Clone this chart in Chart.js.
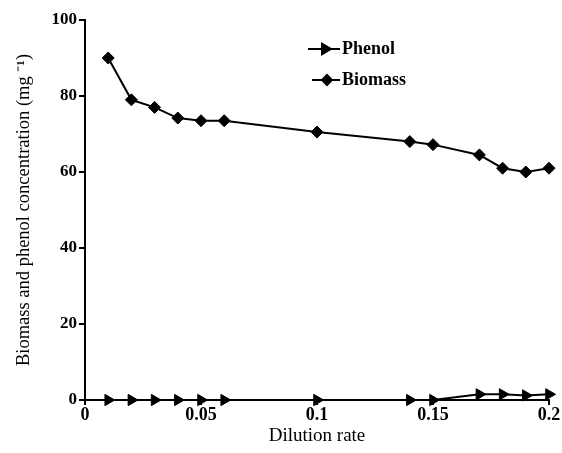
<!DOCTYPE html>
<html>
<head>
<meta charset="utf-8">
<script src="https://cdn.jsdelivr.net/npm/chart.js@4"></script>
<style>
  html, body { margin: 0; padding: 0; background: #fff; }
  #wrap { width: 562px; height: 453px; }
</style>
</head>
<body>
<div id="wrap"><canvas id="myChart" width="562" height="453"></canvas></div>
<script>
const dilution = [0.01, 0.02, 0.03, 0.04, 0.05, 0.06, 0.1, 0.14, 0.15, 0.17, 0.18, 0.19, 0.2];
const biomass = [90, 79, 77, 74.2, 73.5, 73.5, 70.5, 68, 67.2, 64.5, 61, 60, 61];
const phenol = [0, 0, 0, 0, 0, 0, 0, 0, 0, 1.5, 1.5, 1.2, 1.5];
const xTicks = [0, 0.05, 0.1, 0.15, 0.2];
const yTicks = [0, 20, 40, 60, 80, 100];

const font = 'Liberation Serif';

const pts = (ys) => dilution.map((x, i) => ({x: x, y: ys[i]}));

// legend drawn inside the plot, upper middle
const innerLegend = {
    id: 'innerLegend',
    afterDraw(chart) {
        const ctx = chart.ctx;
        const x0 = chart.chartArea.left + 223;
        let y = chart.chartArea.top + 29;
        ctx.save();
        chart.data.datasets.forEach((ds) => {
            const tri = ds.pointStyle === 'triangle';
            ctx.strokeStyle = '#000';
            ctx.lineWidth = 2;
            ctx.beginPath();
            ctx.moveTo(x0 + (tri ? 0 : 4), y);
            ctx.lineTo(x0 + 32, y);
            ctx.stroke();
            Chart.helpers.drawPoint(ctx, {
                pointStyle: ds.pointStyle,
                rotation: ds.pointRotation || 0,
                radius: tri ? 6 : 5,
                borderWidth: 1
            }, x0 + (tri ? 17 : 19), y);
            ctx.fillStyle = '#000';
            ctx.font = 'bold 18px "' + font + '"';
            ctx.textBaseline = 'middle';
            ctx.fillText(ds.label, x0 + 34, y);
            y += 31;
        });
        ctx.restore();
    }
};

new Chart(document.getElementById('myChart').getContext('2d'), {
    type: 'line',
    data: {
        datasets: [{
            label: 'Phenol',
            data: pts(phenol),
            borderColor: '#000',
            backgroundColor: '#000',
            borderWidth: 2,
            pointStyle: 'triangle',
            pointRotation: 90,
            pointRadius: 6.5,
            pointBorderWidth: 1,
            lineTension: 0,
            clip: false
        }, {
            label: 'Biomass',
            data: pts(biomass),
            borderColor: '#000',
            backgroundColor: '#000',
            borderWidth: 2,
            pointStyle: 'rectRot',
            pointRadius: 6,
            pointBorderWidth: 1,
            lineTension: 0,
            clip: false
        }]
    },
    options: {
        responsive: false,
        animation: false,
        layout: { padding: { top: 20, right: 13, left: 0, bottom: 0 } },
        plugins: {
            legend: false,
            tooltip: { enabled: false }
        },
        scales: {
            x: {
                type: 'linear',
                min: 0,
                max: 0.2,
                afterBuildTicks: (axis) => { axis.ticks = xTicks.map(v => ({value: v})); },
                grid: { drawOnChartArea: false, drawTicks: true, tickLength: 5, color: '#000', lineWidth: 2 },
                border: { display: true, color: '#000', width: 2 },
                ticks: {
                    color: '#000',
                    font: { family: font, size: 18, weight: 'bold' },
                    padding: 0,
                    maxRotation: 0,
                    callback: (v) => String(v)
                },
                title: {
                    display: true,
                    text: 'Dilution rate',
                    color: '#000',
                    font: { family: font, size: 19 },
                    padding: { top: 3, bottom: 6 }
                },
                afterFit: (axis) => { axis.height = 53; }
            },
            y: {
                min: 0,
                max: 100,
                afterBuildTicks: (axis) => { axis.ticks = yTicks.map(v => ({value: v})); },
                grid: { drawOnChartArea: false, drawTicks: true, tickLength: 6, color: '#000', lineWidth: 2 },
                border: { display: true, color: '#000', width: 2 },
                ticks: {
                    color: '#000',
                    font: { family: font, size: 17, weight: 'bold' },
                    padding: 2
                },
                title: {
                    display: true,
                    text: 'Biomass and phenol concentration (mg \u207B\u00B9)',
                    color: '#000',
                    font: { family: font, size: 18.5 },
                    padding: { top: 13, bottom: 0 }
                },
                afterFit: (axis) => { axis.width = 85; }
            }
        }
    },
    plugins: [innerLegend]
});
</script>
</body>
</html>
